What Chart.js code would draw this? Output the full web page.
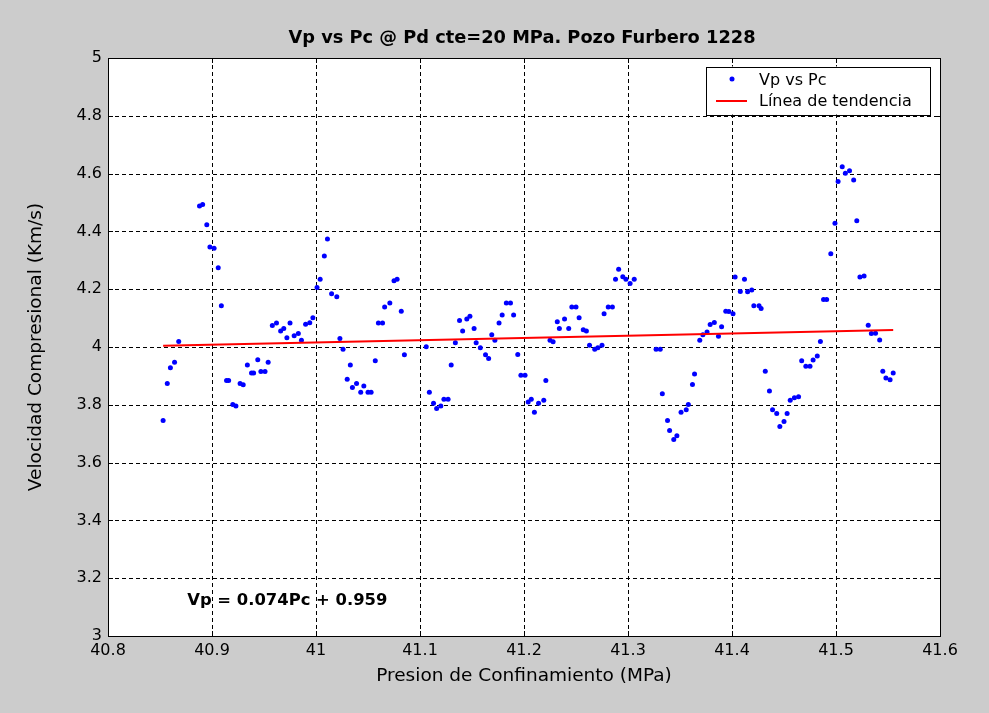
<!DOCTYPE html>
<html>
<head>
<meta charset="utf-8">
<title>Vp vs Pc</title>
<script src="https://cdn.jsdelivr.net/npm/chart.js@4.4.1/dist/chart.umd.min.js"></script>
<style>
  body { margin: 0; background: #cccccc; }
  canvas { display: block; }
</style>
</head>
<body>
<canvas id="chart" width="989" height="713"></canvas>
<script>
// Presion de confinamiento (MPa)
const pc = [
  40.853, 40.857, 40.860, 40.864, 40.868, 40.888, 40.891, 40.895, 40.898, 40.902,
  40.906, 40.909, 40.914, 40.916, 40.920, 40.923, 40.927, 40.930, 40.934, 40.938,
  40.940, 40.944, 40.947, 40.951, 40.954, 40.958, 40.962, 40.966, 40.969, 40.972,
  40.975, 40.979, 40.983, 40.986, 40.990, 40.994, 40.997, 41.001, 41.004, 41.008,
  41.011, 41.015, 41.020, 41.023, 41.026, 41.030, 41.033, 41.035, 41.039, 41.043,
  41.046, 41.050, 41.053, 41.057, 41.060, 41.064, 41.066, 41.071, 41.075, 41.078,
  41.082, 41.085, 41.106, 41.109, 41.113, 41.116, 41.120, 41.123, 41.127, 41.130,
  41.134, 41.138, 41.141, 41.145, 41.148, 41.152, 41.154, 41.158, 41.163, 41.166,
  41.169, 41.172, 41.176, 41.179, 41.183, 41.187, 41.190, 41.194, 41.197, 41.201,
  41.204, 41.207, 41.210, 41.214, 41.219, 41.221, 41.225, 41.228, 41.232, 41.234,
  41.239, 41.243, 41.246, 41.250, 41.253, 41.257, 41.260, 41.263, 41.268, 41.271,
  41.275, 41.277, 41.281, 41.285, 41.288, 41.291, 41.295, 41.298, 41.302, 41.306,
  41.327, 41.331, 41.333, 41.338, 41.340, 41.344, 41.347, 41.351, 41.356, 41.358,
  41.362, 41.364, 41.369, 41.372, 41.376, 41.379, 41.383, 41.387, 41.390, 41.394,
  41.397, 41.401, 41.403, 41.408, 41.412, 41.415, 41.419, 41.421, 41.426, 41.428,
  41.432, 41.436, 41.439, 41.443, 41.446, 41.450, 41.453, 41.456, 41.460, 41.464,
  41.467, 41.471, 41.475, 41.478, 41.482, 41.485, 41.488, 41.491, 41.495, 41.499,
  41.502, 41.506, 41.509, 41.513, 41.517, 41.520, 41.523, 41.527, 41.531, 41.534,
  41.538, 41.542, 41.545, 41.548, 41.552, 41.555
];
// Velocidad compresional (Km/s)
const vp = [
  3.746, 3.874, 3.928, 3.947, 4.019, 4.488, 4.493, 4.423, 4.346, 4.342,
  4.274, 4.143, 3.884, 3.884, 3.801, 3.796, 3.874, 3.869, 3.938, 3.910,
  3.910, 3.956, 3.915, 3.915, 3.947, 4.074, 4.083, 4.055, 4.064, 4.032,
  4.083, 4.039, 4.047, 4.023, 4.079, 4.084, 4.101, 4.206, 4.234, 4.315,
  4.374, 4.184, 4.174, 4.029, 3.992, 3.888, 3.938, 3.860, 3.874, 3.843,
  3.865, 3.843, 3.843, 3.952, 4.083, 4.083, 4.138, 4.152, 4.229, 4.234,
  4.124, 3.973, 4.001, 3.843, 3.805, 3.787, 3.796, 3.819, 3.819, 3.938,
  4.015, 4.092, 4.055, 4.097, 4.106, 4.064, 4.015, 3.997, 3.973, 3.960,
  4.042, 4.023, 4.083, 4.111, 4.152, 4.152, 4.111, 3.974, 3.902, 3.902,
  3.810, 3.819, 3.774, 3.805, 3.816, 3.884, 4.023, 4.018, 4.087, 4.064,
  4.097, 4.064, 4.138, 4.138, 4.101, 4.060, 4.055, 4.006, 3.992, 3.997,
  4.006, 4.115, 4.138, 4.138, 4.234, 4.269, 4.243, 4.234, 4.220, 4.234,
  3.992, 3.992, 3.838, 3.746, 3.711, 3.680, 3.693, 3.774, 3.783, 3.801,
  3.870, 3.907, 4.023, 4.042, 4.052, 4.078, 4.085, 4.037, 4.070, 4.124,
  4.123, 4.115, 4.242, 4.192, 4.234, 4.191, 4.197, 4.143, 4.143, 4.133,
  3.916, 3.848, 3.783, 3.770, 3.725, 3.742, 3.770, 3.816, 3.824, 3.828,
  3.952, 3.933, 3.933, 3.955, 3.969, 4.019, 4.164, 4.164, 4.323, 4.428,
  4.573, 4.624, 4.601, 4.610, 4.578, 4.437, 4.242, 4.246, 4.075, 4.047,
  4.048, 4.024, 3.916, 3.893, 3.887, 3.910
];
// Linea de tendencia (extremos)
const trendPc = [40.853, 41.555];
const trendVp = [4.004, 4.059];

const xTicks = [40.8, 40.9, 41, 41.1, 41.2, 41.3, 41.4, 41.5, 41.6];
const yTicks = [3, 3.2, 3.4, 3.6, 3.8, 4, 4.2, 4.4, 4.6, 4.8, 5];

const titleText = "Vp vs Pc @ Pd cte=20 MPa. Pozo Furbero 1228";
const eqText = "Vp = 0.074Pc + 0.959";
const eqPos = [40.8762, 3.107];
const legendLabels = ["Vp vs Pc", "Línea de tendencia"];

const FONT = '"DejaVu Sans", sans-serif';
Chart.defaults.font.family = FONT;
Chart.defaults.color = "#000";

// Marco, rejilla punteada, marcas hacia dentro, texto y leyenda estilo MATLAB
const matlabAxes = {
  id: "matlabAxes",
  beforeDraw(chart) {
    const { ctx, chartArea: a } = chart;
    ctx.save();
    ctx.fillStyle = "#cccccc";
    ctx.fillRect(0, 0, chart.width, chart.height);
    ctx.fillStyle = "#ffffff";
    ctx.fillRect(a.left, a.top, a.right - a.left, a.bottom - a.top);
    ctx.restore();
  },
  beforeDatasetsDraw(chart) {
    const { ctx, chartArea: a, scales } = chart;
    ctx.save();
    ctx.strokeStyle = "#000";
    ctx.lineWidth = 1;
    ctx.setLineDash([4, 3]);
    ctx.beginPath();
    xTicks.slice(1, -1).forEach(v => {
      const x = Math.round(scales.x.getPixelForValue(v)) + 0.5;
      ctx.moveTo(x, a.top);
      ctx.lineTo(x, a.bottom);
    });
    yTicks.slice(1, -1).forEach(v => {
      const y = Math.round(scales.y.getPixelForValue(v)) + 0.5;
      ctx.moveTo(a.left, y);
      ctx.lineTo(a.right, y);
    });
    ctx.stroke();
    ctx.restore();
  },
  afterDraw(chart) {
    const { ctx, chartArea: a, scales } = chart;
    ctx.save();
    // marco
    ctx.strokeStyle = "#000";
    ctx.lineWidth = 1;
    ctx.setLineDash([]);
    ctx.strokeRect(Math.round(a.left) + 0.5, Math.round(a.top) + 0.5,
      Math.round(a.right - a.left), Math.round(a.bottom - a.top));
    // marcas
    const tl = 5;
    ctx.beginPath();
    xTicks.forEach(v => {
      const x = Math.round(scales.x.getPixelForValue(v)) + 0.5;
      ctx.moveTo(x, a.bottom); ctx.lineTo(x, a.bottom - tl);
      ctx.moveTo(x, a.top); ctx.lineTo(x, a.top + tl);
    });
    yTicks.forEach(v => {
      const y = Math.round(scales.y.getPixelForValue(v)) + 0.5;
      ctx.moveTo(a.left, y); ctx.lineTo(a.left + tl, y);
      ctx.moveTo(a.right, y); ctx.lineTo(a.right - tl, y);
    });
    ctx.stroke();

    // titulo
    ctx.fillStyle = "#000";
    ctx.font = "bold 17.8px " + FONT;
    ctx.textAlign = "center";
    ctx.textBaseline = "alphabetic";
    ctx.fillText(titleText, (a.left + a.right) / 2 - 2, 43.3);

    // ecuacion
    ctx.font = "bold 16.4px " + FONT;
    ctx.textAlign = "left";
    ctx.fillText(eqText, scales.x.getPixelForValue(eqPos[0]), scales.y.getPixelForValue(eqPos[1]));

    // leyenda
    const bx = a.right - 234, by = a.top + 8.5, bw = 224, bh = 48;
    ctx.fillStyle = "#fff";
    ctx.fillRect(bx, by, bw, bh);
    ctx.strokeStyle = "#000";
    ctx.strokeRect(Math.round(bx) + 0.5, Math.round(by) + 0.5, bw, bh);
    ctx.fillStyle = "#0000ff";
    ctx.beginPath();
    ctx.arc(bx + 26, by + 12.5, 2.5, 0, Math.PI * 2);
    ctx.fill();
    ctx.strokeStyle = "#ff0000";
    ctx.lineWidth = 2;
    ctx.beginPath();
    ctx.moveTo(bx + 10, by + 34.5);
    ctx.lineTo(bx + 41, by + 34.5);
    ctx.stroke();
    ctx.fillStyle = "#000";
    ctx.font = "16px " + FONT;
    ctx.fillText(legendLabels[0], bx + 53, by + 18.5);
    ctx.fillText(legendLabels[1], bx + 53, by + 39.5);
    ctx.restore();
  }
};

const points = pc.map((x, i) => ({ x: x, y: vp[i] }));
const trend = trendPc.map((x, i) => ({ x: x, y: trendVp[i] }));

new Chart(document.getElementById("chart"), {
  type: "scatter",
  data: {
    datasets: [
      {
        label: legendLabels[1],
        type: "line",
        data: trend,
        borderColor: "#ff0000",
        borderWidth: 2,
        pointRadius: 0,
        fill: false,
        order: 0
      },
      {
        label: legendLabels[0],
        data: points,
        backgroundColor: "#0000ff",
        borderWidth: 0,
        pointRadius: 2.5,
        order: 1
      }
    ]
  },
  options: {
    responsive: false,
    animation: false,
    layout: { padding: { left: 0, right: 49, top: 58, bottom: 0 } },
    plugins: {
      legend: { display: false },
      tooltip: { enabled: false }
    },
    scales: {
      x: {
        type: "linear",
        min: 40.8,
        max: 41.6,
        afterBuildTicks: s => { s.ticks = xTicks.map(v => ({ value: v })); },
        afterFit: s => { s.height = 77; },
        grid: { display: false, drawTicks: false },
        border: { display: false },
        ticks: {
          padding: 5,
          font: { size: 16 },
          color: "#000",
          maxRotation: 0,
          autoSkip: false,
          callback: v => String(v)
        },
        title: {
          display: true,
          text: "Presion de Confinamiento (MPa)",
          font: { size: 18.5 },
          color: "#000",
          padding: { top: 0, bottom: 26 }
        }
      },
      y: {
        type: "linear",
        min: 3,
        max: 5,
        afterBuildTicks: s => { s.ticks = yTicks.map(v => ({ value: v })); },
        afterFit: s => { s.width = 108; },
        grid: { display: false, drawTicks: false },
        border: { display: false },
        ticks: {
          padding: 6,
          font: { size: 16 },
          color: "#000",
          autoSkip: false,
          callback: v => String(v)
        },
        title: {
          display: true,
          text: "Velocidad Compresional (Km/s)",
          font: { size: 18.5 },
          color: "#000",
          padding: { top: 25, bottom: 0 }
        }
      }
    }
  },
  plugins: [matlabAxes]
});
</script>
</body>
</html>
